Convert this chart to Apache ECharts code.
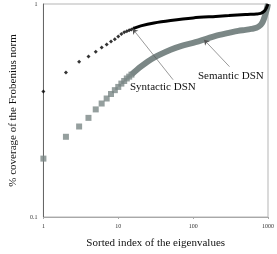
<!DOCTYPE html>
<html><head><meta charset="utf-8">
<script src="https://cdn.jsdelivr.net/npm/echarts@6/dist/echarts.min.js"></script>
<style>html,body{margin:0;padding:0;background:#fff}#c{width:277px;height:254px}</style>
</head><body><div id="c"></div>
<script>
// Discrete leading eigenvalues (markers)
const synIdx = [1,2,3,4,5,6,7,8,9,10,11,12,13,14,15,16];
const synVal = [0.388,0.477,0.536,0.567,0.597,0.625,0.645,0.667,0.684,0.703,0.724,0.736,0.744,0.752,0.760,0.768];
const semIdx = [1,2,3,4,5,6,7,8,9,10,11,12,13,14,15];
const semVal = [0.188,0.238,0.266,0.292,0.320,0.341,0.360,0.378,0.394,0.408,0.423,0.435,0.447,0.456,0.466];
// Dense tail
const synTailIdx = [16,20,30,50,100,200,300,500,700,800,900,950,1000];
const synTailVal = [0.768,0.789,0.815,0.837,0.860,0.874,0.882,0.893,0.898,0.903,0.928,0.958,1.0];
const semTailIdx = [15,20,30,50,70,100,150,200,300,400,500,600,700,800,850,900,950,980,1000];
const semTailVal = [0.466,0.508,0.560,0.610,0.636,0.657,0.686,0.709,0.732,0.748,0.756,0.764,0.773,0.798,0.824,0.869,0.927,0.968,1.0];
const xTicks = ['1','10','100','1000'];
const yTicks = ['0.1','1'];

const pair = (a,b)=>a.map((v,i)=>[v,b[i]]);
const serif = '"Liberation Serif","DejaVu Serif",serif';
const gray = '#7b8786';

const chart = echarts.init(document.getElementById('c'));
chart.setOption({
  animation:false,
  grid:{left:29,right:9,top:4,bottom:36,show:true,borderColor:'#b5b5b5',borderWidth:1},
  xAxis:{type:'log',logBase:10,min:1,max:1000,
    name:'Sorted index of the eigenvalues',nameLocation:'middle',nameGap:21,
    nameTextStyle:{fontFamily:serif,fontSize:11,color:'#111'},
    axisLine:{lineStyle:{color:'#a8a8a8',width:1}},
    axisTick:{show:true,length:2,lineStyle:{color:'#a8a8a8'}},
    minorTick:{show:false},
    splitLine:{show:false},
    axisLabel:{fontFamily:serif,fontSize:6,color:'#333',margin:6,
      formatter:v=>xTicks[Math.round(Math.log10(v))]}},
  yAxis:{type:'log',logBase:10,min:0.1,max:1,
    name:'% coverage of the Frobenius norm',nameLocation:'middle',nameGap:20,
    nameTextStyle:{fontFamily:serif,fontSize:11,color:'#111'},
    axisLine:{show:true,lineStyle:{color:'#666',width:1}},
    axisTick:{show:false},
    splitLine:{show:false},
    axisLabel:{fontFamily:serif,fontSize:6,color:'#333',margin:6,
      formatter:v=>yTicks[Math.round(Math.log10(v))+1]}},
  series:[
    {type:'line',data:pair(semTailIdx,semTailVal),showSymbol:false,smooth:0.3,
      lineStyle:{color:gray,width:6},z:2},
    {type:'scatter',data:pair(semIdx,semVal),symbol:'rect',symbolSize:6,
      itemStyle:{color:gray},z:2},
    {type:'line',data:pair(synTailIdx,synTailVal),showSymbol:false,smooth:0.3,
      lineStyle:{color:'#000',width:3},z:3},
    {type:'scatter',data:pair(synIdx,synVal),symbol:'diamond',symbolSize:4,
      itemStyle:{color:'#000'},z:3,
      markLine:{silent:true,symbol:['none','arrow'],symbolSize:5,
        lineStyle:{color:'#555',width:0.6,type:'solid'},label:{show:false},
        data:[
          [{coord:[54,0.441]},{coord:[15.6,0.764]}],
          [{coord:[306,0.508]},{coord:[140,0.679]}]
        ]}}
  ],
  graphic:[
    {type:'text',left:130,top:82,style:{text:'Syntactic DSN',font:'11px '+serif,fill:'#111'}},
    {type:'text',left:198,top:71,style:{text:'Semantic DSN',font:'11px '+serif,fill:'#111'}}
  ]
});
</script></body></html>
